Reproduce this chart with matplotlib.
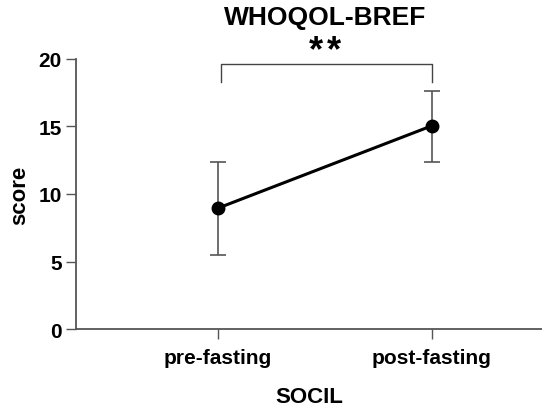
import matplotlib.pyplot as plt

plt.rcParams['font.family'] = ['Liberation Sans', 'DejaVu Sans']

groups = ['pre-fasting', 'post-fasting']
means = [8.95, 15.05]
err_low = [5.5, 12.35]
err_high = [12.35, 17.6]

fig = plt.figure(figsize=(5.42, 4.10), dpi=100)
ax = fig.add_axes([0.140, 0.195, 0.860, 0.659])

x = list(range(len(groups)))
yerr = [[m - lo for m, lo in zip(means, err_low)],
        [hi - m for m, hi in zip(means, err_high)]]
ax.errorbar(x, means, yerr=yerr, fmt='none', ecolor='#555555', elinewidth=1.2,
            capsize=6, capthick=1.2, zorder=2)
ax.plot(x, means, color='black', lw=2.2, marker='o', markersize=9, zorder=3)

# significance bracket
ax.plot([0.015, 0.015, 1.0, 1.0], [18.27, 19.63, 19.63, 18.27], color='#444444',
        lw=1.0, clip_on=False)
for dx in (-0.042, 0.042):
    ax.text(0.5 + dx, 20.62, '*', ha='center', va='center', fontsize=26,
            fontweight='bold')

ax.set_xlim(-0.664, 1.514)
ax.set_ylim(0, 20)
ax.set_yticks([0, 5, 10, 15, 20])
ax.set_xticks(x)
ax.set_xticklabels(groups)

for s in ['top', 'right']:
    ax.spines[s].set_visible(False)
for s in ['left', 'bottom']:
    ax.spines[s].set_color('#555555')
    ax.spines[s].set_linewidth(1.3)
ax.tick_params(axis='both', colors='#555555', labelcolor='black', labelsize=15,
               width=1.0, length=7)
for lab in ax.get_xticklabels() + ax.get_yticklabels():
    lab.set_fontweight('bold')
ax.tick_params(axis='x', pad=7)
ax.tick_params(axis='y', pad=3)

ax.set_ylabel('score', fontsize=16, fontweight='bold', labelpad=6)
ax.set_xlabel('SOCIL', fontsize=16, fontweight='bold', labelpad=13)
fig.text(0.6, 0.955, 'WHOQOL-BREF', ha='center', va='center', fontsize=19,
         fontweight='bold')

fig.savefig('out.png', dpi=100)
